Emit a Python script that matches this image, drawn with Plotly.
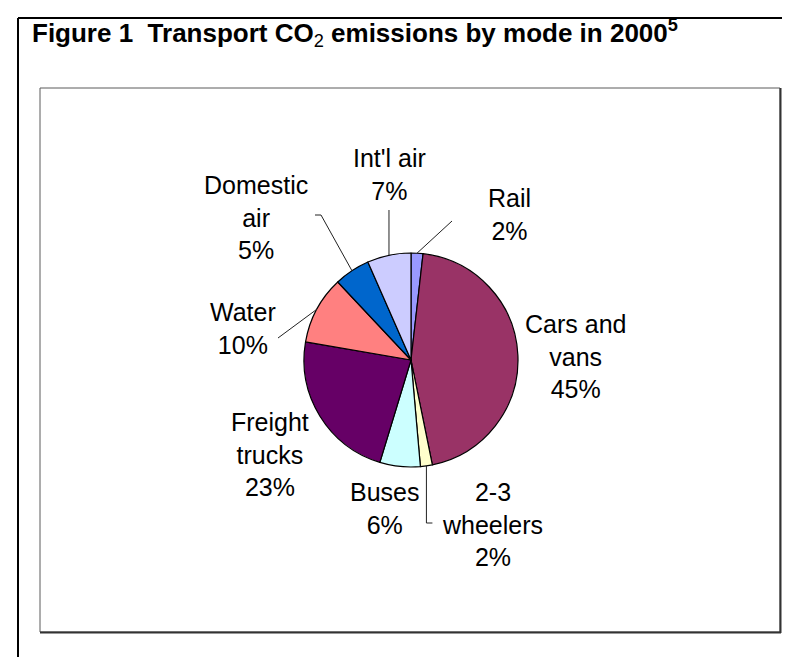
import math
import plotly.graph_objects as go

# ---- data ----
modes = ["Rail", "Cars and vans", "2-3 wheelers", "Buses", "Freight trucks",
         "Water", "Domestic air", "Int'l air"]
shares = [1.8, 45.0, 1.8, 6.1, 23.0, 10.3, 5.4, 6.6]
label_lines = [["Rail"], ["Cars and", "vans"], ["2-3", "wheelers"], ["Buses"],
               ["Freight", "trucks"], ["Water"], ["Domestic", "air"], ["Int'l air"]]
colors = ["#9999FF", "#993366", "#FFFFCC", "#CCFFFF", "#660066",
          "#FF8080", "#0066CC", "#CCCCFF"]
title_html = ("<b>Figure 1\u00a0\u00a0Transport CO</b><sub>2</sub>"
              "<b> emissions by mode in 2000<sup>5</sup></b>")

# ---- layout (pixels) ----
W, H = 790, 657
CX, CY, R = 403, 352, 107
FONT = "Liberation Sans, Arial, sans-serif"
FS = 25

def px(x):
    return x / W

def py(y):
    return 1 - y / H

# label block centres
label_pos = {
    "Rail": (502, 206.5),
    "Cars and vans": (567, 348),
    "2-3 wheelers": (484, 516),
    "Buses": (376, 500),
    "Freight trucks": (262, 446),
    "Water": (235, 320),
    "Domestic air": (248, 209),
    "Int'l air": (381, 166.5),
}

total = sum(shares)
mids = {}
acc = 0.0
for m, v in zip(modes, shares):
    f = (acc + v / 2) / total
    th = 2 * math.pi * f
    mids[m] = (CX + R * math.sin(th), CY - R * math.cos(th))
    acc += v

fig = go.Figure()
fig.add_trace(go.Pie(
    values=shares, labels=modes, sort=False, direction="clockwise", rotation=0,
    marker=dict(colors=colors, line=dict(color="black", width=1.2)),
    textinfo="none", hoverinfo="label+percent", showlegend=False,
    domain=dict(x=[px(CX - R), px(CX + R)], y=[py(CY + R), py(CY - R)]),
))

shapes = []
def line(x0, y0, x1, y1, color="black", width=1):
    shapes.append(dict(type="line", xref="paper", yref="paper",
                       x0=px(x0), y0=py(y0), x1=px(x1), y1=py(y1),
                       line=dict(color=color, width=width)))

# outer frame (left and top)
line(10, 10, 10, H + 5, width=2)
line(10, 10, W + 5, 10, width=2)
# inner chart box with shadowed right/bottom
shapes.append(dict(type="rect", xref="paper", yref="paper",
                   x0=px(32), y0=py(624), x1=px(772), y1=py(80),
                   line=dict(color="#5a5a5a", width=1)))
line(772.5, 80, 772.5, 625, color="#333333", width=2)
line(32, 624.5, 773, 624.5, color="#333333", width=2)

# leader lines
lc = "#222222"
sx, sy = mids["Rail"]
line(sx, sy, 444, 213, color=lc)
sx, sy = mids["2-3 wheelers"]
line(sx, sy, sx, 515, color=lc)
line(sx, 515, sx + 6, 515, color=lc)
sx, sy = mids["Water"]
line(270, 330, sx, sy, color=lc)
sx, sy = mids["Domestic air"]
line(307, 207, 313, 207, color=lc)
line(313, 207, sx, sy, color=lc)
sx, sy = mids["Int'l air"]
line(sx, sy, sx, 202, color=lc)

annotations = []
for m, v, lines in zip(modes, shares, label_lines):
    x, y = label_pos[m]
    pct = f"{round(v / total * 100)}%"
    annotations.append(dict(
        text="<br>".join(lines + [pct]), xref="paper", yref="paper",
        x=px(x), y=py(y), xanchor="center", yanchor="middle",
        showarrow=False, align="center",
        font=dict(family=FONT, size=FS, color="black")))

annotations.append(dict(
    text=title_html, xref="paper", yref="paper", x=px(22), y=py(25),
    xanchor="left", yanchor="middle", showarrow=False,
    font=dict(family=FONT, size=26, color="black")))

fig.update_layout(
    width=W, height=H, margin=dict(l=0, r=0, t=0, b=0),
    paper_bgcolor="white", plot_bgcolor="white",
    shapes=shapes, annotations=annotations,
)
fig.write_html("out.html")
